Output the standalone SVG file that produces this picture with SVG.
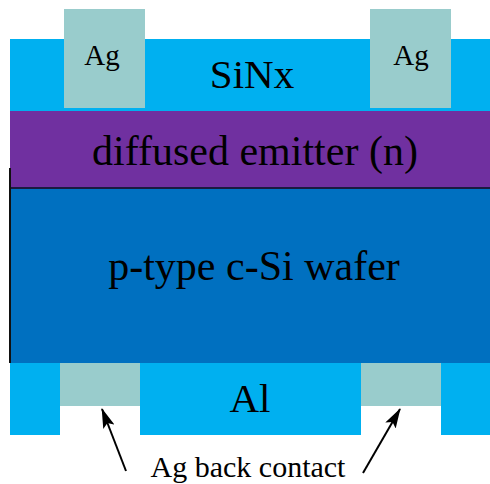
<svg xmlns="http://www.w3.org/2000/svg" width="490" height="484" viewBox="0 0 490 484">
<style>
.t{font-family:"Liberation Serif","Times New Roman",serif;fill:#000}
.big{font-size:41px}
.big2{font-size:42px}
.sm{font-size:29px}
.lab{font-size:30px}
.sinx{fill:#00B0F0}
.ag{fill:#99CCCC}
.emit{fill:#7030A0}
.waf{fill:#0070C0}
.arr{stroke:#000;stroke-width:2;fill:none}
</style>
<defs>
<marker id="ah2" viewBox="0 0 20 12" refX="19" refY="6" markerWidth="20" markerHeight="12" markerUnits="userSpaceOnUse" orient="auto">
<path d="M0,0 L20,6 L0,12 L4,6 z" fill="#000"/>
</marker>
</defs>
<rect width="490" height="484" fill="#fff"/>
<g id="sinx">
<rect class="sinx" x="10" y="39" width="480" height="72"/>
<text class="t big" x="252" y="88" text-anchor="middle">SiNx</text>
</g>
<g id="ag-front-left">
<rect class="ag" x="64" y="9" width="81" height="99"/>
<text class="t sm" x="102" y="65" text-anchor="middle">Ag</text>
</g>
<g id="ag-front-right">
<rect class="ag" x="370" y="9" width="81" height="99"/>
<text class="t sm" x="411" y="65" text-anchor="middle">Ag</text>
</g>
<g id="emitter">
<rect class="emit" x="10" y="111" width="480" height="77"/>
<text class="t big2" x="255" y="165" text-anchor="middle">diffused emitter (n)</text>
</g>
<g id="wafer">
<rect class="waf" x="10" y="188" width="480" height="175"/>
<line x1="10" y1="188" x2="490" y2="188" stroke="#1a1a40" stroke-width="2"/>
<line x1="10" y1="168" x2="10" y2="363" stroke="#111" stroke-width="2"/>
<text class="t big2" x="254" y="280" text-anchor="middle">p-type c-Si wafer</text>
</g>
<g id="al">
<rect class="sinx" x="10" y="363" width="50" height="72"/>
<rect class="sinx" x="140" y="363" width="221" height="72"/>
<rect class="sinx" x="441" y="363" width="49" height="72"/>
<text class="t big" x="250" y="412" text-anchor="middle">Al</text>
</g>
<g id="ag-back-left">
<rect class="ag" x="60" y="363" width="80" height="43"/>
</g>
<g id="ag-back-right">
<rect class="ag" x="361" y="363" width="80" height="43"/>
</g>
<g id="label">
<text class="t lab" x="248" y="477" text-anchor="middle">Ag back contact</text>
</g>
<g id="connectors">
<line class="arr" x1="126" y1="471" x2="102" y2="409" marker-end="url(#ah2)"/>
<line class="arr" x1="363" y1="473" x2="400" y2="409" marker-end="url(#ah2)"/>
</g>
</svg>
